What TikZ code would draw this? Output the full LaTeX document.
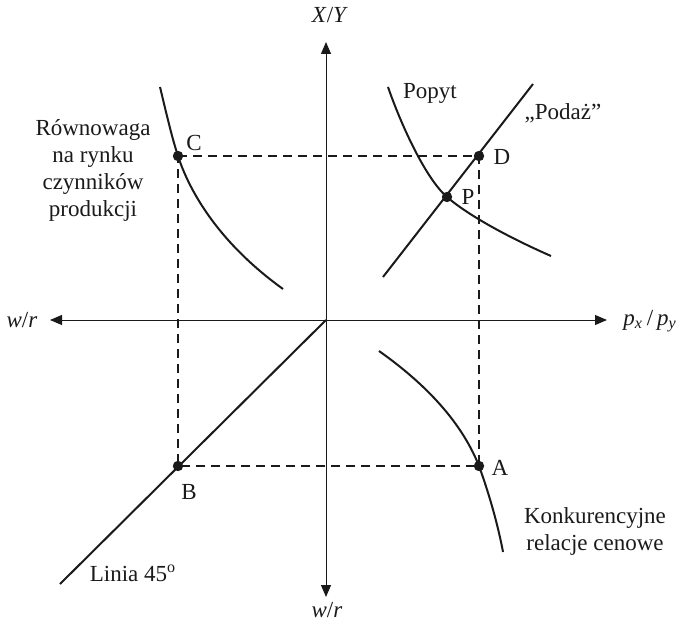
\documentclass[tikz,border=0pt]{standalone}
\usepackage{fontspec}
\setmainfont{Liberation Serif}
\usepackage{tikz}
\usetikzlibrary{arrows.meta}
\definecolor{inkmain}{HTML}{1A1A1A}
\tikzset{every node/.append style={font=\fontsize{11.5}{13.5}\selectfont, text=inkmain},
  axisline/.style={inkmain,line width=0.5pt,-{Triangle[length=6pt,width=5pt]}},
  curveline/.style={inkmain,line width=1pt},
  guideline/.style={inkmain,line width=0.55pt,dash pattern=on 4.5pt off 3pt},
  ptdot/.style={fill=inkmain}}

\begin{document}
\begin{tikzpicture}[x=0.5pt,y=-0.5pt]
  \useasboundingbox (0,0) rectangle (683,624);
  % axes
  \coordinate (O) at (326,320);
  \coordinate (Top) at (326,42);
  \coordinate (Bot) at (326,597);
  \coordinate (Lft) at (50,320);
  \coordinate (Rgt) at (607,320);
  \draw[axisline] (O)--(Top);
  \draw[axisline] (O)--(Bot);
  \draw[axisline] (O)--(Lft);
  \draw[axisline] (O)--(Rgt);
  \node (xy) at (330,15) {\textit{X}/\textit{Y}};
  \node (wrb) at (327,610) {\textit{w}/\textit{r}};
  \node (wrl) at (22,320) {\textit{w}/\textit{r}};
  \node (pxpy) at (650,321) {\textit{p}\textsubscript{\textit{x}}\,/\,\textit{p}\textsubscript{\textit{y}}};
  % points
  \coordinate (C) at (178,156);
  \coordinate (D) at (479,156);
  \coordinate (B) at (178,466);
  \coordinate (A) at (479,466);
  \coordinate (P) at (447,197);
  \draw[guideline] (C)--(D)--(A)--(B)--cycle;
  % curves
  \coordinate (L1) at (60,584);
  \draw[curveline] (L1)--(O);
  \coordinate (S1) at (383,277);
  \coordinate (S2) at (533,84);
  \draw[curveline] (S1)--(S2);
  \draw[curveline] (388,87) .. controls (400,122) and (425,178) .. (P)
    .. controls (469,216) and (510,238) .. (551,256);
  \draw[curveline] (160,87) .. controls (166,112) and (172,138) .. (C)
    .. controls (188,187) and (215,240) .. (283,289);
  \draw[curveline] (379,351) .. controls (420,380) and (460,418) .. (A)
    .. controls (487,488) and (497,520) .. (503,552);
  \foreach \p in {A,B,C,D,P}
    \fill[ptdot] (\p) circle[radius=2.6pt];
  % labels
  \node (lC) at (194,143) {C};
  \node (lD) at (502,157) {D};
  \node (lP) at (468,197) {P};
  \node (lB) at (189,492) {B};
  \node (lA) at (500,468) {A};
  \node (popyt) at (430,93) {Popyt};
  \node (podaz) at (563,113) {„Podaż”};
  \node[align=center] (rown) at (93,170) {Równowaga\\na rynku\\czynników\\produkcji};
  \node[align=center] (konk) at (595,531) {Konkurencyjne\\relacje cenowe};
  \node (linia) at (133,573) {Linia 45\textsuperscript{o}};
\end{tikzpicture}
\end{document}
